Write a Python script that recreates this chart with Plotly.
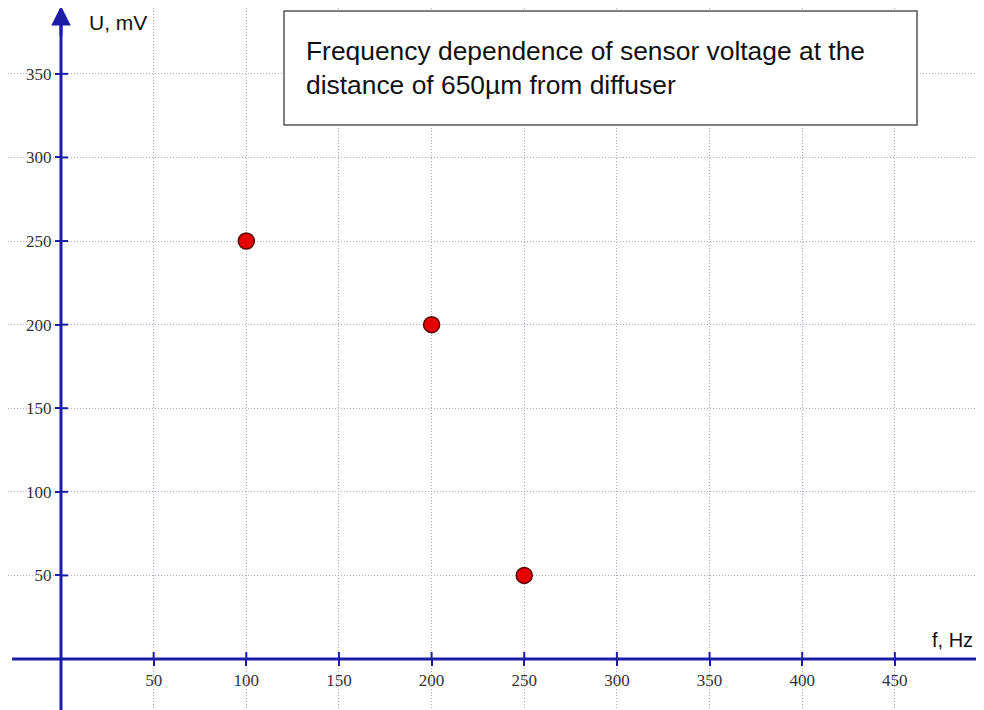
import plotly.graph_objects as go

freq_hz = [100, 200, 250]
voltage_mv = [250, 200, 50]
x_ticks = [50, 100, 150, 200, 250, 300, 350, 400, 450]
y_ticks = [50, 100, 150, 200, 250, 300, 350]
title_text = "Frequency dependence of sensor voltage at the<br>distance of 650µm from diffuser"

# page has an 8px body margin: visible figure occupies page pixels 8..976 x 8..710
OFF = 8
W, H = 984 - 2 * OFF, 710 - OFF
X_RANGE = [-28.6, 493.8]
Y_RANGE = [-30.5, 389.4]
AX_COL = "#1c1ca8"
GRID_COL = "#a9a9cf"


def px(p):
    return (p - OFF) / W


def py(p):
    return 1 - (p - OFF) / H


x_pos = (0 - X_RANGE[0]) / (X_RANGE[1] - X_RANGE[0])
y_pos = (0 - Y_RANGE[0]) / (Y_RANGE[1] - Y_RANGE[0])

fig = go.Figure()
fig.add_trace(go.Scatter(
    x=freq_hz, y=voltage_mv, mode="markers",
    marker=dict(size=16, color="#e60000", line=dict(color="#5a0000", width=1.5)),
    showlegend=False, hoverinfo="skip"))

tick_font = dict(family="Liberation Serif", size=17, color="#333333")

fig.update_layout(
    width=W, height=H,
    margin=dict(l=0, r=0, t=0, b=0),
    plot_bgcolor="white", paper_bgcolor="white",
    xaxis=dict(range=X_RANGE, tickvals=x_ticks, showgrid=True, gridcolor=GRID_COL,
               griddash="1px,2px", gridwidth=1, zeroline=False, showline=False,
               anchor="free", position=y_pos, ticks="outside", ticklen=6,
               tickwidth=2, tickcolor=AX_COL, tickfont=tick_font),
    yaxis=dict(range=Y_RANGE, tickvals=y_ticks, showgrid=True, gridcolor=GRID_COL,
               griddash="1px,2px", gridwidth=1, zeroline=False, showline=False,
               anchor="free", position=x_pos, ticks="outside", ticklen=6,
               tickwidth=2, tickcolor=AX_COL, tickfont=tick_font),
)

shapes = []
# axis lines
shapes.append(dict(type="line", xref="x", yref="y", x0=-26.4, x1=X_RANGE[1], y0=0, y1=0,
                   line=dict(color=AX_COL, width=3), layer="above"))
shapes.append(dict(type="line", xref="x", yref="y", x0=0, x1=0, y0=Y_RANGE[0], y1=382,
                   line=dict(color=AX_COL, width=3), layer="above"))
# inner halves of ticks
for t in x_ticks:
    shapes.append(dict(type="line", xref="x", yref="y", ysizemode="pixel", yanchor=0,
                       x0=t, x1=t, y0=0, y1=7, line=dict(color=AX_COL, width=2)))
for t in y_ticks:
    shapes.append(dict(type="line", xref="x", yref="y", xsizemode="pixel", xanchor=0,
                       y0=t, y1=t, x0=0, x1=7, line=dict(color=AX_COL, width=2)))
# title box
shapes.append(dict(type="rect", xref="paper", yref="paper",
                   x0=px(284), x1=px(917), y0=py(125), y1=py(11),
                   fillcolor="white", line=dict(color="#555555", width=1.5), layer="above"))
fig.update_layout(shapes=shapes)

ann = []
ann.append(dict(x=0, y=390.6, xref="x", yref="y", ax=0, ay=372, axref="x", ayref="y",
                showarrow=True, arrowhead=2, arrowsize=1.3, arrowwidth=3, arrowcolor=AX_COL, text=""))
ann.append(dict(x=px(304), y=py(68), xref="paper", yref="paper", xanchor="left", yanchor="middle",
                text=title_text, showarrow=False, align="left",
                font=dict(family="Liberation Sans", size=26.4, color="#111111")))
ann.append(dict(x=px(87), y=py(22), xref="paper", yref="paper", xanchor="left", yanchor="middle",
                text="U, mV", showarrow=False, font=dict(family="Liberation Sans", size=21, color="#111111")))
ann.append(dict(x=px(975), y=py(640), xref="paper", yref="paper", xanchor="right", yanchor="middle",
                text="f, Hz", showarrow=False, font=dict(family="Liberation Sans", size=20, color="#111111")))
fig.update_layout(annotations=ann)

fig.write_html("out.html")
